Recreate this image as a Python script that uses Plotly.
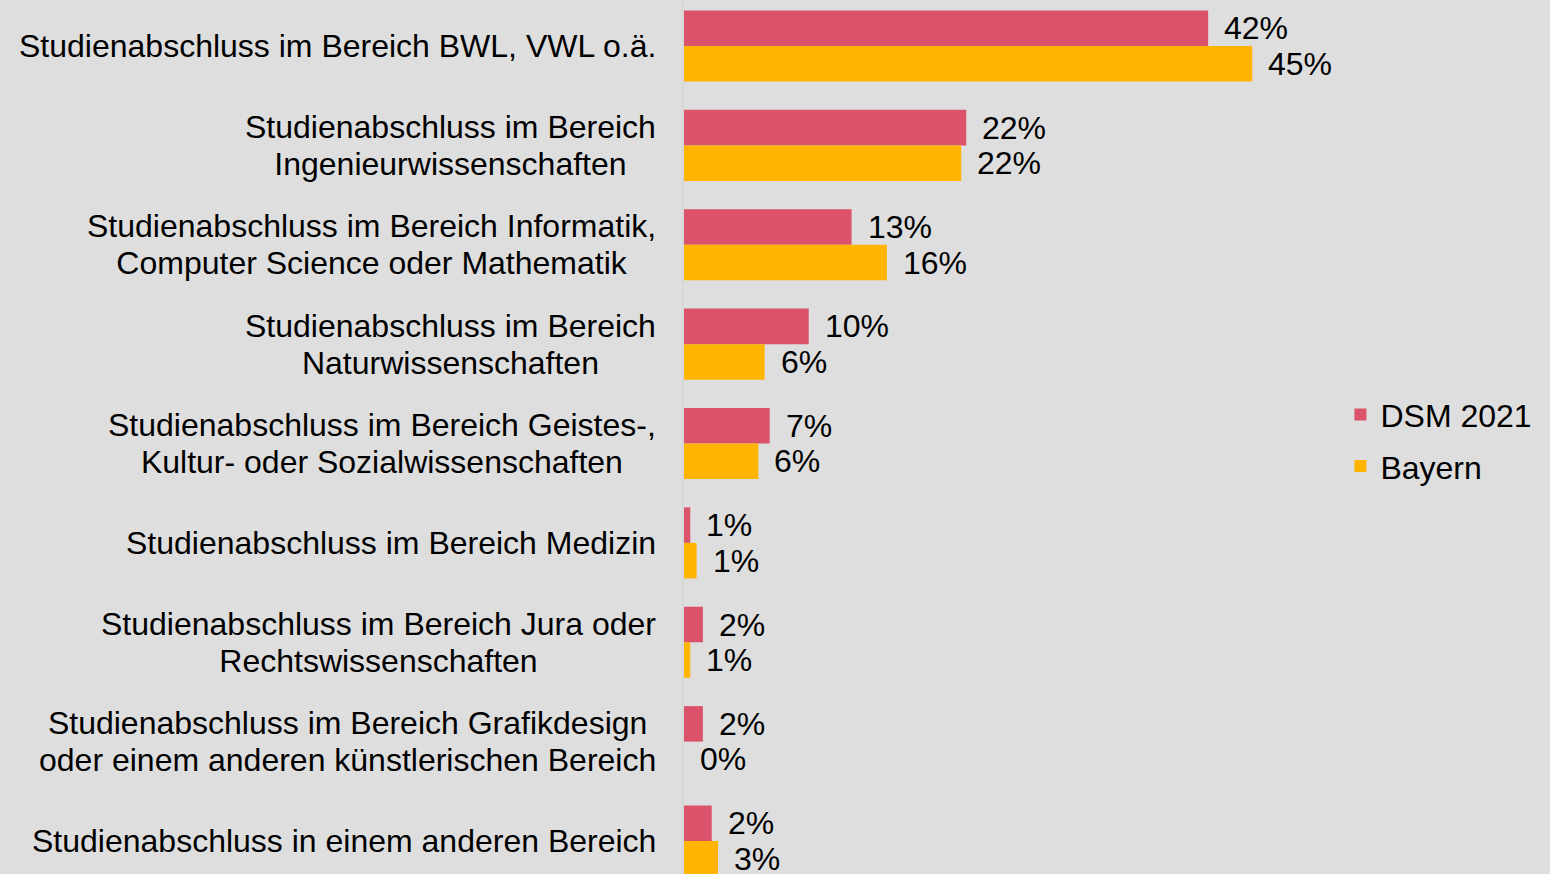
import plotly.graph_objects as go

categories = [
    "Studienabschluss im Bereich BWL, VWL o.ä.",
    "Studienabschluss im Bereich<br>Ingenieurwissenschaften",
    "Studienabschluss im Bereich Informatik,<br>Computer Science oder Mathematik",
    "Studienabschluss im Bereich<br>Naturwissenschaften",
    "Studienabschluss im Bereich Geistes-,<br>Kultur- oder Sozialwissenschaften",
    "Studienabschluss im Bereich Medizin",
    "Studienabschluss im Bereich Jura oder<br>Rechtswissenschaften",
    "Studienabschluss im Bereich Grafikdesign<br>oder einem anderen künstlerischen Bereich",
    "Studienabschluss in einem anderen Bereich",
]
dsm_values = [41.6, 22.4, 13.3, 9.9, 6.8, 0.5, 1.5, 1.5, 2.2]
bayern_values = [45.1, 22.0, 16.1, 6.4, 5.9, 1.0, 0.5, 0.0, 2.7]
dsm_labels = ["42%", "22%", "13%", "10%", "7%", "1%", "2%", "2%", "2%"]
bayern_labels = ["45%", "22%", "16%", "6%", "6%", "1%", "1%", "0%", "3%"]

PINK = "#DB536A"
YELLOW = "#FFB400"
BG = "#DEDEDE"
FONT = "Liberation Sans, Arial, sans-serif"
FS = 32

idx = list(range(len(categories)))

fig = go.Figure()
fig.add_trace(go.Bar(y=idx, x=dsm_values, orientation="h", name="DSM 2021",
                     marker=dict(color=PINK, line=dict(width=0)), legendgroup="a",
                     hoverinfo="skip"))
fig.add_trace(go.Bar(y=idx, x=bayern_values, orientation="h", name="Bayern",
                     marker=dict(color=YELLOW, line=dict(width=0)), legendgroup="b",
                     hoverinfo="skip"))


def tight(text):
    # keep glyphs at FS while the line advance follows the smaller base font size
    return "<br>".join(f'<span style="font-size:{FS}px">{line}</span>'
                       for line in text.split("<br>"))


bargap = 0.285
half = (1 - bargap) / 4
annotations = []
for i, cat in enumerate(categories):
    annotations.append(dict(x=0, xref="paper", y=i, yref="y", text=tight(cat),
                            xanchor="right", yanchor="middle", align="center",
                            xshift=-26, showarrow=False,
                            font=dict(family=FONT, size=28.5, color="#000000")))
    annotations.append(dict(x=dsm_values[i], xref="x", y=i - half, yref="y",
                            text=dsm_labels[i], xanchor="left", yanchor="middle",
                            xshift=14, showarrow=False,
                            font=dict(family=FONT, size=FS, color="#000000")))
    annotations.append(dict(x=bayern_values[i], xref="x", y=i + half, yref="y",
                            text=bayern_labels[i], xanchor="left", yanchor="middle",
                            xshift=14, showarrow=False,
                            font=dict(family=FONT, size=FS, color="#000000")))

n = len(categories)
fig.update_layout(
    width=1550, height=874,
    margin=dict(l=684, r=0, t=0, b=0),
    paper_bgcolor=BG, plot_bgcolor=BG,
    barmode="group", bargap=bargap, bargroupgap=0,
    font=dict(family=FONT, size=FS, color="#000000"),
    showlegend=True,
    legend=dict(x=0.758, y=0.557, xanchor="left", yanchor="top",
                bgcolor="rgba(0,0,0,0)", traceorder="grouped",
                tracegroupgap=7, font=dict(family=FONT, size=FS)),
    xaxis=dict(range=[0, 68.73], showgrid=False, zeroline=False,
               showticklabels=False, showline=False, fixedrange=True),
    yaxis=dict(range=[n - 1 + 0.332, -0.463], showgrid=False, zeroline=False,
               showticklabels=False, showline=True, linecolor="#D6D6D6",
               linewidth=2, fixedrange=True),
    annotations=annotations,
)

fig.write_html("out.html", config={"displayModeBar": False},
               post_script="document.body.style.margin='0';document.body.style.overflow='hidden';")
